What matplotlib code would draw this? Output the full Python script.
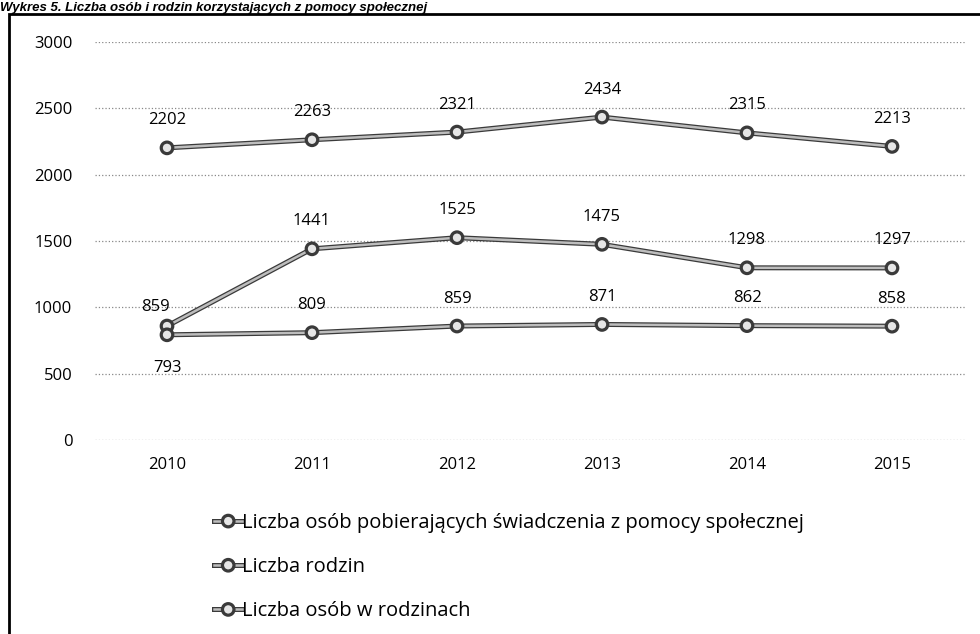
import matplotlib.pyplot as plt
import matplotlib.patheffects as pe
from matplotlib.patches import Rectangle

years = ['2010', '2011', '2012', '2013', '2014', '2015']
osoby_w_rodzinach = [2202, 2263, 2321, 2434, 2315, 2213]
osoby_pobierajace = [859, 1441, 1525, 1475, 1298, 1297]
rodziny = [793, 809, 859, 871, 862, 858]

labels = ['Liczba osób pobierających świadczenia z pomocy społecznej',
          'Liczba rodzin',
          'Liczba osób w rodzinach']

plt.rcParams['font.family'] = ['Open Sans', 'DejaVu Sans']

fig = plt.figure(figsize=(9.8, 6.34), dpi=100)
ax = fig.add_axes([94.5 / 980, 1 - 440 / 634, 870 / 980, 398 / 634])

x = list(range(len(years)))
outline = [pe.Stroke(linewidth=3.6, foreground='#3a3a3a'), pe.Normal()]

def draw(vals, label):
    ln, = ax.plot(x, vals, color='#bdbdbd', lw=1.8, marker='o', ms=7,
                  mfc='#e6e6e6', mec='#3a3a3a', mew=1.0, label=label,
                  path_effects=outline)
    return ln

h1 = draw(osoby_pobierajace, labels[0])
h2 = draw(rodziny, labels[1])
h3 = draw(osoby_w_rodzinach, labels[2])

fs = 12
# data labels
for i, v in enumerate(osoby_w_rodzinach):
    ax.annotate(str(v), (i, v), xytext=(0, 14), textcoords='offset points',
                ha='center', va='bottom', fontsize=fs)
for i, v in enumerate(osoby_pobierajace):
    dx = -8 if i == 0 else 0
    dy = 8 if i == 0 else 14
    ax.annotate(str(v), (i, v), xytext=(dx, dy), textcoords='offset points',
                ha='center', va='bottom', fontsize=fs)
for i, v in enumerate(rodziny):
    if i == 0:
        ax.annotate(str(v), (i, v), xytext=(0, -18), textcoords='offset points',
                    ha='center', va='top', fontsize=fs)
    else:
        ax.annotate(str(v), (i, v), xytext=(0, 14), textcoords='offset points',
                    ha='center', va='bottom', fontsize=fs)

ax.set_xlim(-0.5, len(years) - 0.5)
ax.set_ylim(0, 3000)
ax.set_yticks(range(0, 3001, 500))
ax.set_xticks(x)
ax.set_xticklabels(years)
ax.tick_params(length=0, labelsize=fs, pad=12)
ax.tick_params(axis='y', pad=16)
ax.grid(axis='y', linestyle=':', color='#888888', lw=0.9)
ax.set_axisbelow(True)
for s in ax.spines.values():
    s.set_visible(False)

fig.legend(handles=[h1, h2, h3], loc='upper left',
           bbox_to_anchor=(0.2, 1 - 495 / 634), frameon=False,
           fontsize=14.5, handlelength=1.4, handletextpad=0.0,
           labelspacing=1.2)

# frame around the chart
fig.patches.append(Rectangle((9 / 980, -0.1), 1.2, 1 - 14 / 634 + 0.1,
                             transform=fig.transFigure, fill=False,
                             edgecolor='black', lw=2))

fig.text(0.0, 1 - 11 / 634,
         'Wykres 5. Liczba osób i rodzin korzystających z pomocy społecznej',
         family='Liberation Sans', style='italic', fontweight='bold',
         fontsize=9.5, va='baseline', ha='left')

fig.savefig('out.png', dpi=100)
